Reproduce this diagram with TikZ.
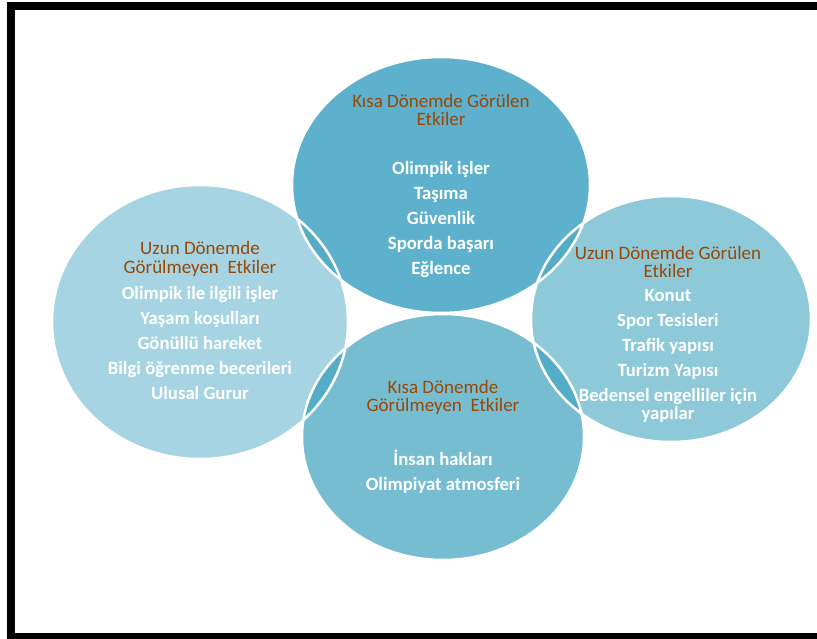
\documentclass[tikz,border=0pt]{standalone}
\usepackage{fontspec}
\setmainfont{Carlito}
\usetikzlibrary{positioning}
\definecolor{topblue}{HTML}{5DB1CC}
\definecolor{leftblue}{HTML}{A6D4E2}
\definecolor{rightblue}{HTML}{8DC9D8}
\definecolor{bottomblue}{HTML}{77BDD2}
\definecolor{lensblue}{HTML}{55ACC7}
\definecolor{titlebrown}{HTML}{984807}

\begin{document}
\begin{tikzpicture}[x=1pt,y=-1pt,
    title/.style={text=titlebrown, align=center, font=\fontsize{19}{18.5}\selectfont},
    item/.style={text=white, align=center, font=\bfseries\fontsize{18.7}{25}\selectfont},
    rim/.style={white, line width=2.5pt}]
            \useasboundingbox (0,0) rectangle (817,639);
            \clip (0,0) rectangle (817,639);
            \draw[line width=8pt] (11,6) rectangle (830,637);

            \coordinate (short seen) at (441,185);
            \coordinate (long unseen) at (200,322);
            \coordinate (long seen) at (671,319);
            \coordinate (short unseen) at (443,437);

            \fill[topblue] (short seen) ellipse (149 and 128);
            \fill[bottomblue] (short unseen) ellipse (141 and 123);
            \fill[leftblue] (long unseen) ellipse (148 and 137);
            \fill[rightblue] (long seen) ellipse (140 and 123);

            % overlaps
            \begin{scope}
                \clip (short seen) ellipse (149 and 128);
                \fill[lensblue] (long unseen) ellipse (148 and 137);
                \fill[lensblue] (long seen) ellipse (140 and 123);
            \end{scope}
            \begin{scope}
                \clip (short unseen) ellipse (141 and 123);
                \fill[lensblue] (long unseen) ellipse (148 and 137);
                \fill[lensblue] (long seen) ellipse (140 and 123);
            \end{scope}

            \draw[rim] (short seen) ellipse (149 and 128);
            \draw[rim] (short unseen) ellipse (141 and 123);
            \draw[rim] (long unseen) ellipse (148 and 137);
            \draw[rim] (long seen) ellipse (140 and 123);

            \node[title] (short seen title) at (441,110) {Kısa Dönemde Görülen\\Etkiler};
            \node[item] (short seen items) at (441,219.5) {Olimpik işler\\Taşıma\\Güvenlik\\Sporda başarı\\Eğlence};

            \node[title] (long unseen title) at (200,259) {Uzun Dönemde\\Görülmeyen~ Etkiler};
            \node[item] (long unseen items) at (200,343.5) {Olimpik ile ilgili işler\\Yaşam koşulları\\Gönüllü hareket\\Bilgi öğrenme becerileri\\Ulusal Gurur};

            \node[title] (long seen title) at (668,262) {Uzun Dönemde Görülen\\Etkiler};
            \node[item] (long seen items) at (668,356) {Konut\\Spor Tesisleri\\Trafik yapısı\\Turizm Yapısı\\Bedensel engelliler için\\[-7pt]yapılar};

            \node[title] (short unseen title) at (443,397.5) {Kısa Dönemde\\Görülmeyen~ Etkiler};
            \node[item] (short unseen items) at (443,471.5) {İnsan hakları\\Olimpiyat atmosferi};
        \end{tikzpicture}
\end{document}
